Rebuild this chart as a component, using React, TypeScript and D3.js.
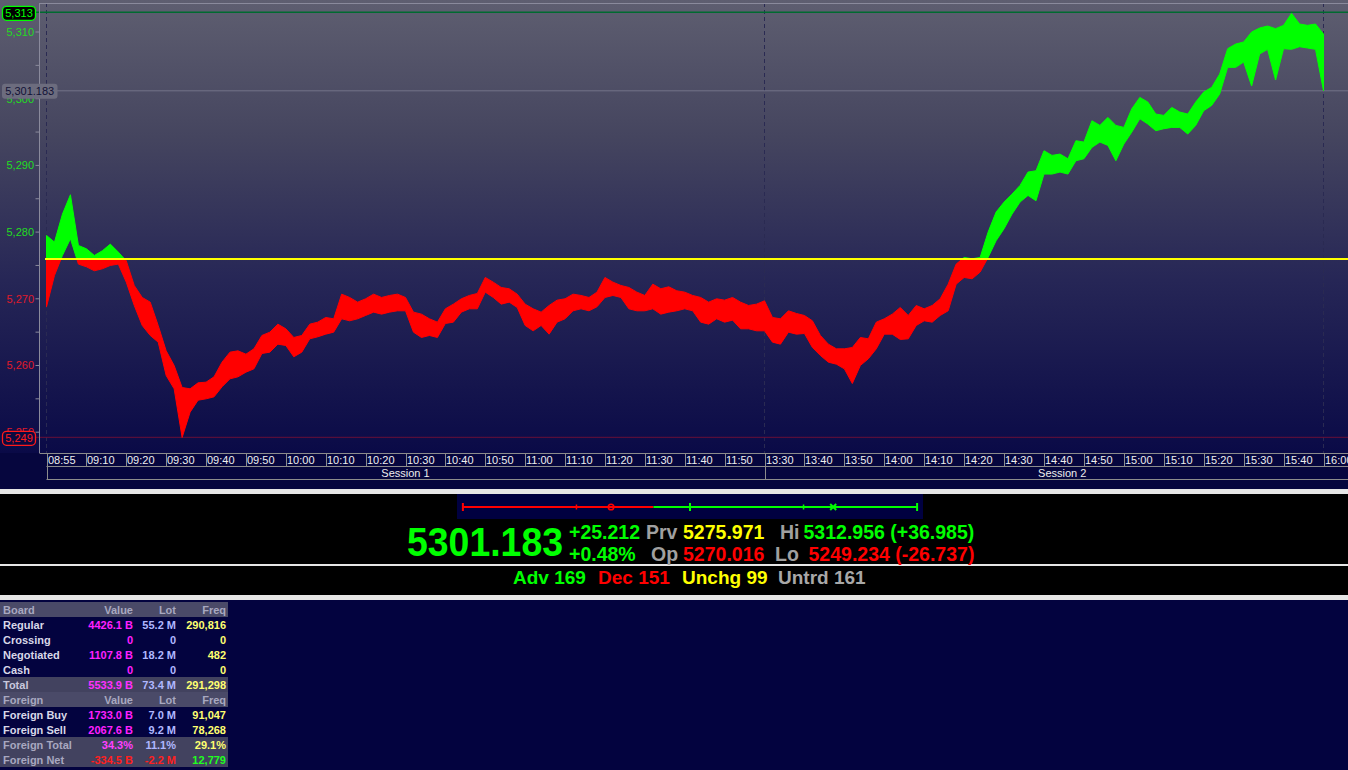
import React from "react";
import * as d3 from "d3";

const W = 1348;
const H = 770;

// ---------- intraday price data (2-minute high / low bands) ----------
const priceTimes = `09:00 09:02 09:04 09:06 09:08 09:10 09:12 09:14 09:16 09:18
09:20 09:22 09:24 09:26 09:28 09:30 09:32 09:34 09:36 09:38
09:40 09:42 09:44 09:46 09:48 09:50 09:52 09:54 09:56 09:58
10:00 10:02 10:04 10:06 10:08 10:10 10:12 10:14 10:16 10:18
10:20 10:22 10:24 10:26 10:28 10:30 10:32 10:34 10:36 10:38
10:40 10:42 10:44 10:46 10:48 10:50 10:52 10:54 10:56 10:58
11:00 11:02 11:04 11:06 11:08 11:10 11:12 11:14 11:16 11:18
11:20 11:22 11:24 11:26 11:28 11:30 11:32 11:34 11:36 11:38
11:40 11:42 11:44 11:46 11:48 11:50 11:52 11:54 11:56 11:58
12:00
13:32 13:34 13:36 13:38 13:40 13:42 13:44 13:46 13:48 13:50
13:52 13:54 13:56 13:58 14:00 14:02 14:04 14:06 14:08 14:10
14:12 14:14 14:16 14:18 14:20 14:22 14:24 14:26 14:28 14:30
14:32 14:34 14:36 14:38 14:40 14:42 14:44 14:46 14:48 14:50
14:52 14:54 14:56 14:58 15:00 15:02 15:04 15:06 15:08 15:10
15:12 15:14 15:16 15:18 15:20 15:22 15:24 15:26 15:28 15:30
15:32 15:34 15:36 15:38 15:40 15:42 15:44 15:46 15:48 15:50`
  .trim()
  .split(/\s+/);

const priceHighs = [
  5279.5, 5278.5, 5282.7, 5285.6, 5278.0, 5277.5, 5276.5, 5277.2, 5278.2, 5277.0,
  5275.7, 5272.0, 5270.2, 5269.5, 5266.0, 5262.2, 5260.0, 5256.7, 5256.5, 5257.4,
  5257.5, 5258.3, 5260.5, 5262.0, 5262.2, 5261.7, 5262.5, 5264.5, 5265.0, 5266.2,
  5265.5, 5264.2, 5264.5, 5266.2, 5266.5, 5267.2, 5267.0, 5270.7, 5270.2, 5269.5,
  5270.0, 5270.7, 5270.2, 5270.5, 5270.7, 5270.2, 5268.0, 5267.7, 5267.0, 5266.5,
  5268.5, 5269.2, 5270.0, 5270.5, 5270.8, 5273.2, 5272.5, 5271.7, 5271.5, 5270.7,
  5269.2, 5268.5, 5268.0, 5269.0, 5269.8, 5270.0, 5270.7, 5270.5, 5270.2, 5271.0,
  5273.2, 5272.5, 5272.0, 5271.7, 5271.0, 5270.5, 5272.2, 5271.5, 5271.8, 5271.2,
  5271.0, 5270.5, 5270.2, 5269.5, 5270.0, 5269.8, 5270.2, 5269.5, 5269.0, 5269.2,
  5269.7,
  5267.2, 5267.0, 5268.2, 5267.8, 5267.5, 5266.7, 5264.5, 5263.2, 5262.5, 5262.5,
  5262.7, 5264.2, 5264.0, 5266.5, 5267.0, 5267.7, 5268.7, 5267.5, 5269.0, 5268.5,
  5269.0, 5270.0, 5272.2, 5275.2, 5276.2, 5276.0, 5276.2, 5280.0, 5283.0, 5284.5,
  5285.7, 5287.0, 5289.0, 5289.2, 5292.2, 5291.5, 5291.7, 5291.0, 5293.7, 5293.5,
  5296.7, 5296.0, 5297.2, 5296.0, 5295.7, 5298.5, 5300.2, 5299.5, 5297.7, 5297.5,
  5298.7, 5298.0, 5297.7, 5299.5, 5301.0, 5301.7, 5303.7, 5307.5, 5308.2, 5308.5,
  5310.0, 5310.6, 5310.9, 5310.5, 5311.0, 5312.8, 5311.2, 5311.0, 5311.2, 5309.7,
];

const priceLows = [
  5268.8, 5273.5, 5276.5, 5279.0, 5275.2, 5274.8, 5274.2, 5274.5, 5275.0, 5275.2,
  5272.5, 5269.0, 5266.0, 5264.5, 5263.5, 5258.5, 5256.5, 5249.2, 5253.0, 5254.8,
  5255.0, 5255.3, 5256.8, 5258.0, 5258.3, 5259.0, 5259.5, 5261.8, 5262.0, 5263.2,
  5263.0, 5261.3, 5262.0, 5264.0, 5264.3, 5264.7, 5265.0, 5267.0, 5266.7, 5267.0,
  5267.5, 5268.0, 5267.7, 5268.0, 5268.2, 5268.2, 5265.0, 5264.2, 5264.5, 5264.2,
  5266.3, 5266.5, 5268.0, 5268.5, 5268.5, 5271.0, 5270.2, 5269.2, 5269.5, 5268.7,
  5266.0, 5265.2, 5266.0, 5264.7, 5266.5, 5267.0, 5268.2, 5268.5, 5268.2, 5268.8,
  5270.2, 5270.5, 5270.2, 5268.5, 5268.2, 5268.2, 5268.5, 5267.7, 5268.0, 5268.2,
  5268.5, 5268.2, 5266.5, 5266.2, 5267.0, 5266.5, 5266.8, 5265.5, 5265.5, 5265.2,
  5265.2,
  5263.5, 5263.2, 5265.0, 5264.7, 5264.8, 5262.7, 5261.5, 5260.5, 5260.2, 5259.5,
  5257.3, 5260.0, 5261.0, 5262.5, 5264.7, 5264.7, 5263.9, 5264.0, 5266.0, 5266.7,
  5266.5, 5267.5, 5268.2, 5272.2, 5273.2, 5273.0, 5274.0, 5276.2, 5278.7, 5280.5,
  5282.7, 5284.5, 5285.5, 5284.7, 5288.7, 5288.7, 5289.0, 5288.7, 5290.7, 5291.0,
  5292.7, 5293.5, 5293.0, 5290.7, 5293.2, 5295.0, 5297.0, 5296.2, 5295.2, 5295.5,
  5295.7, 5295.7, 5294.7, 5296.0, 5298.2, 5299.0, 5300.7, 5304.7, 5304.7, 5305.5,
  5301.9, 5306.7, 5307.4, 5302.8, 5307.5, 5307.4, 5307.8, 5307.6, 5307.4, 5301.2,
];

// ---------- summary values ----------
const prevClose = 5275.971;
const openPrice = 5270.016;
const lastPrice = 5301.183;
const highPrice = 5312.956;
const lowPrice = 5249.234;

const breadthLabels = ["Adv", "Dec", "Unchg", "Untrd"];
const breadthCounts = [169, 151, 99, 161];

// ---------- axes ----------
const yTickValues = [5250, 5255, 5260, 5265, 5270, 5275, 5280, 5285, 5290, 5295, 5300, 5305, 5310];
const yLabelValues = [5250, 5260, 5270, 5280, 5290, 5300, 5310];
const xTickTimes = [
  "08:55", "09:10", "09:20", "09:30", "09:40", "09:50", "10:00", "10:10", "10:20", "10:30",
  "10:40", "10:50", "11:00", "11:10", "11:20", "11:30", "11:40", "11:50",
  "13:30", "13:40", "13:50", "14:00", "14:10", "14:20", "14:30", "14:40", "14:50",
  "15:00", "15:10", "15:20", "15:30", "15:40", "16:00",
];
const sessionNames = ["Session 1", "Session 2"];
const sessionStarts = ["08:55", "13:30"];
const sessionEnds = ["12:00", "16:00"];
const sessionBreakTimes = ["08:55", "13:30", "16:00"];

// ---------- trading table ----------
const boardLabels = ["Regular", "Crossing", "Negotiated", "Cash", "Total"];
const boardValues = ["4426.1 B", "0", "1107.8 B", "0", "5533.9 B"];
const boardLots = ["55.2 M", "0", "18.2 M", "0", "73.4 M"];
const boardFreqs = ["290,816", "0", "482", "0", "291,298"];
const foreignLabels = ["Foreign Buy", "Foreign Sell", "Foreign Total", "Foreign Net"];
const foreignValues = ["1733.0 B", "2067.6 B", "34.3%", "-334.5 B"];
const foreignLots = ["7.0 M", "9.2 M", "11.1%", "-2.2 M"];
const foreignFreqs = ["91,047", "78,268", "29.1%", "12,779"];

const FONT = "'Liberation Sans', Arial, sans-serif";
const GREEN = "#00ff00";
const RED = "#ff0000";

const locale = d3.formatLocale({
  decimal: ".",
  thousands: ",",
  grouping: [3],
  currency: ["", ""],
  minus: "-",
});

function toMin(t: string) {
  const [h, m] = t.split(":").map(Number);
  return h * 60 + m;
}

export default function App() {
  const x = d3
    .scaleLinear()
    .domain([535, 540, 720, 810, 950, 960])
    .range([46.5, 46.5, 764.5, 764.5, 1323.5, 1323.5]);
  const y = d3.scaleLinear().domain([lowPrice, highPrice]).range([437.3, 12.3]);

  const plotTop = 3;
  const plotBottom = 453;
  const axisLeft = 39.5;

  const pts = priceTimes.map((t, i) => ({ t: toMin(t), hi: priceHighs[i], lo: priceLows[i] }));
  const area = d3
    .area<{ t: number; hi: number; lo: number }>()
    .x((d) => x(d.t))
    .y0((d) => y(d.lo))
    .y1((d) => y(d.hi))
    .curve(d3.curveLinear);
  const band = area(pts) || "";
  const yPrev = y(prevClose);
  const yHi = y(highPrice);
  const yLo = y(lowPrice);
  const yLast = y(lastPrice);

  const fmtInt = locale.format(",.0f");
  const fmt3 = locale.format(",.3f");
  const fmtPlain = locale.format(".3f");
  const fmtSigned = locale.format("+.3f");
  const fmtPct = locale.format("+.2f");

  // range bar
  const rb = d3.scaleLinear().domain([lowPrice, highPrice]).range([462.9, 917.1]);
  const rbY = 507;
  const q = [0.25, 0.5, 0.75].map((f) => lowPrice + (highPrice - lowPrice) * f);

  const change = lastPrice - prevClose;
  const changePct = (change / prevClose) * 100;

  const tableRows: { kind: string; cells: string[] }[] = [
    { kind: "head", cells: ["Board", "Value", "Lot", "Freq"] },
    ...boardLabels.slice(0, 4).map((l, i) => ({ kind: "body", cells: [l, boardValues[i], boardLots[i], boardFreqs[i]] })),
    { kind: "total", cells: [boardLabels[4], boardValues[4], boardLots[4], boardFreqs[4]] },
    { kind: "head", cells: ["Foreign", "Value", "Lot", "Freq"] },
    ...foreignLabels.slice(0, 2).map((l, i) => ({ kind: "body", cells: [l, foreignValues[i], foreignLots[i], foreignFreqs[i]] })),
    { kind: "ftotal", cells: [foreignLabels[2], foreignValues[2], foreignLots[2], foreignFreqs[2]] },
    { kind: "fnet", cells: [foreignLabels[3], foreignValues[3], foreignLots[3], foreignFreqs[3]] },
  ];
  const colX = [3, 133, 176, 226];
  const rowColors = (kind: string): string[] => {
    if (kind === "head") return ["#a8a8c0", "#a8a8c0", "#a8a8c0", "#a8a8c0"];
    if (kind === "total") return ["#c8c8dc", "#ff30ff", "#b0b8ff", "#ffff70"];
    if (kind === "ftotal") return ["#a8a8c0", "#ff40ff", "#b0b8ff", "#ffff70"];
    if (kind === "fnet") return ["#a8a8c0", "#ff2020", "#ff2020", "#20ff20"];
    return ["#d8d8e8", "#ff20ff", "#b0b8ff", "#ffff70"];
  };

  const breadthColors = [GREEN, RED, "#ffff00", "#a8a8a8"];
  const breadthX = [513, 598, 682, 778];

  return (
    <>
      <style>{`body{margin:0;background:#03033f;overflow:hidden}`}</style>
      <svg width={W} height={H} style={{ display: "block", fontFamily: FONT }}>
        <defs>
          <linearGradient id="bg" x1="0" y1="0" x2="0" y2="1">
            <stop offset="0" stopColor="#5e5e70" />
            <stop offset="0.3" stopColor="#45455f" />
            <stop offset="0.62" stopColor="#262656" />
            <stop offset="1" stopColor="#0a0a47" />
          </linearGradient>
          <clipPath id="above">
            <rect x={0} y={0} width={W} height={yPrev} />
          </clipPath>
          <clipPath id="below">
            <rect x={0} y={yPrev} width={W} height={plotBottom - yPrev} />
          </clipPath>
        </defs>

        {/* page background */}
        <rect x={0} y={0} width={W} height={H} fill="#03033f" />
        <rect x={0} y={0} width={W} height={plotBottom} fill="url(#bg)" />
        <rect x={0} y={plotBottom} width={W} height={489 - plotBottom} fill="#06063e" />

        {/* dashed session lines */}
        {sessionBreakTimes.map((t) => (
          <line
            key={"d" + t}
            x1={x(toMin(t))}
            x2={x(toMin(t))}
            y1={plotTop}
            y2={plotBottom}
            stroke="#2a2a52"
            strokeDasharray="4,3"
          />
        ))}

        {/* reference lines */}
        <line x1={36} x2={W} y1={yHi} y2={yHi} stroke="#006a30" strokeWidth={1.5} />
        <line x1={57} x2={W} y1={yLast} y2={yLast} stroke="#74748a" strokeWidth={1} />
        <line x1={36} x2={W} y1={yLo} y2={yLo} stroke="#6a1038" strokeWidth={1} />

        {/* price band */}
        <g clipPath="url(#above)">
          <path d={band} fill={GREEN} stroke={GREEN} strokeWidth={1} />
        </g>
        <g clipPath="url(#below)">
          <path d={band} fill={RED} stroke={RED} strokeWidth={1} />
        </g>

        {/* previous close */}
        <line x1={45} x2={W} y1={yPrev} y2={yPrev} stroke="#ffff00" strokeWidth={2} />

        {/* frame */}
        <line x1={axisLeft} x2={W} y1={plotTop + 0.5} y2={plotTop + 0.5} stroke="#8a8a9c" />
        <line x1={axisLeft} x2={axisLeft} y1={plotTop} y2={plotBottom} stroke="#8a8a9c" />

        {/* y ticks */}
        {yTickValues.map((v) => (
          <line key={"yt" + v} x1={35.5} x2={axisLeft} y1={y(v)} y2={y(v)} stroke="#8a8a9c" />
        ))}
        {yLabelValues.map((v) => (
          <text
            key={"yl" + v}
            x={34}
            y={y(v)}
            dy="0.36em"
            textAnchor="end"
            fontSize={11}
            fill={v >= prevClose ? "#22dd22" : "#e01a2a"}
          >
            {fmtInt(v)}
          </text>
        ))}

        {/* y tags */}
        <rect x={2.5} y={yHi - 6} width={33} height={14} rx={4} fill="#000000" stroke={GREEN} strokeWidth={1.3} />
        <text x={19} y={yHi + 1} dy="0.36em" textAnchor="middle" fontSize={11} fill={GREEN}>
          {fmtInt(highPrice)}
        </text>
        <rect x={2} y={yLast - 7} width={55.5} height={15} rx={3} fill="#6c6c7e" />
        <text x={29.7} y={yLast + 0.5} dy="0.36em" textAnchor="middle" fontSize={11} fill="#121236">
          {fmt3(lastPrice)}
        </text>
        <rect x={2.5} y={yLo - 6} width={33} height={14} rx={4} fill="#0a0a40" stroke="#ff1a1a" strokeWidth={1.3} />
        <text x={19} y={yLo + 1} dy="0.36em" textAnchor="middle" fontSize={11} fill="#ff1a1a">
          {fmtInt(lowPrice)}
        </text>

        {/* x axis */}
        <line x1={axisLeft} x2={W} y1={453.5} y2={453.5} stroke="#8c8c8c" />
        <line x1={46.5} x2={W} y1={466.5} y2={466.5} stroke="#8c8c8c" />
        <line x1={46.5} x2={W} y1={479.5} y2={479.5} stroke="#8c8c8c" />
        {xTickTimes.map((t) => {
          const xx = Math.round(x(toMin(t))) + 0.5;
          return (
            <g key={"xt" + t}>
              <line x1={xx} x2={xx} y1={453} y2={466} stroke="#8c8c8c" />
              <text x={xx + 0.5} y={464} fontSize={11} fill="#eeeeee">
                {t}
              </text>
            </g>
          );
        })}
        {sessionNames.map((s, i) => {
          const x0 = x(toMin(sessionStarts[i]));
          const x1 = i === sessionNames.length - 1 ? W + 12 : x(toMin(sessionEnds[i]));
          const xx = Math.round(x0) + 0.5;
          return (
            <g key={s}>
              <line x1={xx} x2={xx} y1={466} y2={479} stroke="#8c8c8c" />
              <text x={(x0 + x1) / 2} y={477} textAnchor="middle" fontSize={11} fill="#eeeeee">
                {s}
              </text>
            </g>
          );
        })}

        {/* info panel */}
        <rect x={0} y={489} width={W} height={5} fill="#e6e6e6" />
        <rect x={0} y={494} width={W} height={70} fill="#000000" />
        <rect x={0} y={564} width={W} height={2} fill="#e6e6e6" />
        <rect x={0} y={566} width={W} height={29} fill="#000000" />
        <rect x={0} y={595} width={W} height={5} fill="#e6e6e6" />

        {/* range bar */}
        <rect x={457} y={494} width={466} height={25} fill="#000040" />
        <line x1={rb(lowPrice)} x2={rb(prevClose)} y1={rbY} y2={rbY} stroke={RED} strokeWidth={2} />
        <line x1={rb(prevClose)} x2={rb(highPrice)} y1={rbY} y2={rbY} stroke={GREEN} strokeWidth={2} />
        <line x1={rb(lowPrice)} x2={rb(lowPrice)} y1={rbY - 4} y2={rbY + 4} stroke={RED} strokeWidth={2} />
        <line x1={rb(highPrice)} x2={rb(highPrice)} y1={rbY - 4} y2={rbY + 4} stroke={GREEN} strokeWidth={2} />
        {q.map((v, i) => (
          <line
            key={"q" + i}
            x1={rb(v)}
            x2={rb(v)}
            y1={rbY - (i === 1 ? 4 : 2.5)}
            y2={rbY + (i === 1 ? 4 : 2.5)}
            stroke={v >= prevClose ? GREEN : RED}
            strokeWidth={i === 1 ? 2 : 1.5}
          />
        ))}
        <circle cx={rb(openPrice)} cy={rbY} r={2.8} fill="none" stroke={openPrice >= prevClose ? GREEN : RED} strokeWidth={1.5} />
        <g stroke={lastPrice >= prevClose ? GREEN : RED} strokeWidth={2}>
          <line x1={rb(lastPrice) - 3} x2={rb(lastPrice) + 3} y1={rbY - 3} y2={rbY + 3} />
          <line x1={rb(lastPrice) - 3} x2={rb(lastPrice) + 3} y1={rbY + 3} y2={rbY - 3} />
        </g>

        {/* big price */}
        <text x={407} y={556} fontSize={40} fontWeight="bold" fill={GREEN} textLength={156} lengthAdjust="spacingAndGlyphs">
          {fmtPlain(lastPrice)}
        </text>
        <g fontSize={19.5} fontWeight="bold">
          <text x={569} y={538.5} fill={GREEN}>{fmtSigned(change)}</text>
          <text x={646} y={538.5} fill="#a0a0a0">Prv</text>
          <text x={683} y={538.5} fill="#ffff00">{fmtPlain(prevClose)}</text>
          <text x={780} y={538.5} fill="#a0a0a0">Hi</text>
          <text x={803.5} y={538.5} fill={GREEN}>
            {fmtPlain(highPrice)} ({fmtSigned(highPrice - prevClose)})
          </text>
          <text x={569} y={560.5} fill={GREEN}>{fmtPct(changePct)}%</text>
          <text x={651} y={560.5} fill="#a0a0a0">Op</text>
          <text x={683} y={560.5} fill={openPrice >= prevClose ? GREEN : RED}>{fmtPlain(openPrice)}</text>
          <text x={775} y={560.5} fill="#a0a0a0">Lo</text>
          <text x={808.5} y={560.5} fill={RED}>
            {fmtPlain(lowPrice)} ({fmtSigned(lowPrice - prevClose)})
          </text>
        </g>
        <g fontSize={19} fontWeight="bold">
          {breadthLabels.map((l, i) => (
            <text key={l} x={breadthX[i]} y={583.5} fill={breadthColors[i]}>
              {l} {breadthCounts[i]}
            </text>
          ))}
        </g>

        {/* trading table */}
        <g fontSize={11} fontWeight="bold">
          {tableRows.map((r, i) => {
            const top = 602 + i * 15;
            const cols = rowColors(r.kind);
            const shaded = r.kind !== "body";
            return (
              <g key={"r" + i}>
                {shaded && (
                  <rect x={0} y={top} width={228} height={15} fill={r.kind === "head" ? "#4a4a68" : "#42425f"} />
                )}
                {r.cells.map((c, j) => (
                  <text key={j} x={colX[j]} y={top + 11.5} textAnchor={j === 0 ? "start" : "end"} fill={cols[j]}>
                    {c}
                  </text>
                ))}
              </g>
            );
          })}
        </g>
      </svg>
    </>
  );
}
